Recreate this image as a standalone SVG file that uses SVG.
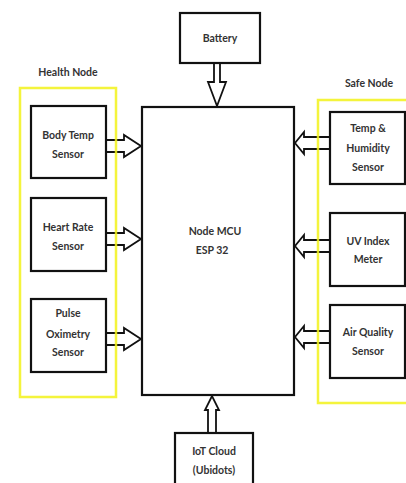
<svg xmlns="http://www.w3.org/2000/svg" width="406" height="483" viewBox="0 0 406 483">
<style>
.box{fill:#fff;stroke:#111;stroke-width:2.2}
.grp{fill:none;stroke:#f2f21a;stroke-width:2.5}
.arr{fill:#fff;stroke:#111;stroke-width:1.8;stroke-linejoin:miter}
text{font-family:Lato,"Liberation Sans",sans-serif;font-weight:bold;font-size:10.5px;fill:#333;text-anchor:middle}
</style>
<rect width="406" height="483" fill="#fff"/>
<g id="connectors">
<path class="arr" d="M214 63 V82 H208 L217 106 L226 82 H220 V63 Z"/>
<path class="arr" d="M208 433 V410 H205 L212 396 L219 410 H216 V433 Z"/>
<path class="arr" d="M106 140 H124 V135 L141 146 L124 157 V152 H106"/>
<path class="arr" d="M106 233 H124 V228 L141 239 L124 250 V245 H106"/>
<path class="arr" d="M106 333 H124 V328 L141 339 L124 350 V345 H106"/>
<path class="arr" d="M330 137 H304 V132 L295 143 L304 154 V149 H330"/>
<path class="arr" d="M330 240 H304 V235 L295 246 L304 257 V252 H330"/>
<path class="arr" d="M330 331 H304 V326 L295 337 L304 348 V343 H330"/>
</g>
<g id="health-group">
<rect class="grp" x="20" y="88" width="96" height="309" stroke-opacity="0.85"/>
<text x="68" y="76">Health Node</text>
</g>
<g id="safe-group">
<path class="grp" d="M408 100 H318 V403 H408" stroke-opacity="0.85"/>
<text x="369" y="87">Safe Node</text>
</g>
<g id="battery">
<rect class="box" x="180" y="13" width="80" height="50"/>
<text x="220" y="42">Battery</text>
</g>
<g id="mcu">
<rect class="box" x="142" y="107" width="152" height="288"/>
<text x="215" y="235">Node MCU</text>
<text x="212" y="254">ESP 32</text>
</g>
<g id="body-temp">
<rect class="box" x="31" y="106" width="75" height="72"/>
<text x="68" y="139">Body Temp</text>
<text x="68" y="158">Sensor</text>
</g>
<g id="heart-rate">
<rect class="box" x="31" y="198" width="75" height="73"/>
<text x="68" y="231">Heart Rate</text>
<text x="68" y="250">Sensor</text>
</g>
<g id="pulse">
<rect class="box" x="31" y="299" width="75" height="73"/>
<text x="68" y="317">Pulse</text>
<text x="68" y="338">Oximetry</text>
<text x="68" y="356">Sensor</text>
</g>
<g id="temp-humidity">
<rect class="box" x="330" y="112" width="75" height="72"/>
<text x="368" y="132">Temp &amp;</text>
<text x="368" y="152">Humidity</text>
<text x="368" y="171">Sensor</text>
</g>
<g id="uv-index">
<rect class="box" x="330" y="213" width="75" height="73"/>
<text x="368" y="245">UV Index</text>
<text x="368" y="263">Meter</text>
</g>
<g id="air-quality">
<rect class="box" x="330" y="305" width="75" height="73"/>
<text x="368" y="336">Air Quality</text>
<text x="368" y="355">Sensor</text>
</g>
<g id="iot-cloud">
<rect class="box" x="175" y="433" width="78" height="52"/>
<text x="214" y="455">IoT Cloud</text>
<text x="214" y="474">(Ubidots)</text>
</g>
</svg>
